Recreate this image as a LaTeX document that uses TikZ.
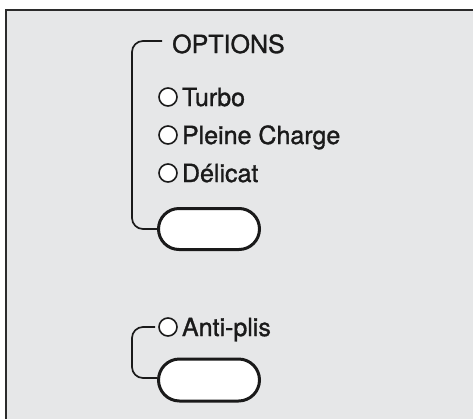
\documentclass[tikz,border=0pt]{standalone}
\usepackage{fontspec}
\setmainfont{TeX Gyre Heros}
\newfontfamily\panelfont{TeX Gyre Heros}[FakeBold=1.2]
\usepackage{tikz}
\usetikzlibrary{positioning, shapes.misc}

\definecolor{panelgray}{HTML}{E6E7E8}
\definecolor{framegray}{HTML}{2B2B2B}
\definecolor{inkblack}{HTML}{1A1A1A}

\tikzset{
	led/.style={draw=inkblack, circle, line width=1.6pt, fill=white, minimum size=18pt, inner sep=0pt},
	lbl/.style={font=\panelfont\fontsize{25}{30}\selectfont, text=inkblack, inner sep=0pt, text height=18pt, text depth=0pt},
	pill/.style={draw=inkblack, rounded rectangle, line width=3pt, fill=white, minimum width=101pt, minimum height=41pt, inner sep=0pt},
	bracket/.style={draw=inkblack, line width=1.7pt, rounded corners=11pt}
}

\begin{document}
\begin{tikzpicture}[x=1pt, y=-1pt]
		% Page and panel
		\useasboundingbox (0,0) rectangle (473,418);
		\clip (0,0) rectangle (473,418);
		\fill[white] (0,0) rectangle (473,418);
		\draw[draw=framegray, fill=panelgray, line width=2pt] (6,10) rectangle (490,440);

		% Options group
		\node[lbl, anchor=west] (options) at (172,44) {OPTIONS};
		\node[led] (turbo) at (168,97) {};
		\node[led] (pleine) at (168,135) {};
		\node[led] (delicat) at (168,173) {};
		\node[lbl, right=4pt of turbo] (turbotext) {Turbo};
		\node[lbl, right=4pt of pleine] (pleinetext) {Pleine Charge};
		\node[lbl, right=4pt of delicat] (delicattext) {Délicat};
		\node[pill] (optbutton) at (209,229) {};

		% Anti-plis group
		\node[led] (antiplis) at (168,327) {};
		\node[lbl, right=4pt of antiplis] (antiplistext) {Anti-plis};
		\node[pill, minimum height=42pt] (antibutton) at (209,380) {};

		% Brackets
		\draw[bracket] ([xshift=-10pt, yshift=3pt]options.west) -| ([xshift=-25pt]optbutton.west) -- (optbutton.west);
		\draw[bracket] ([xshift=-3pt]antiplis.west) -| ([xshift=-25pt, yshift=2pt]antibutton.west) -- ([yshift=2pt]antibutton.west);
	\end{tikzpicture}
\end{document}
